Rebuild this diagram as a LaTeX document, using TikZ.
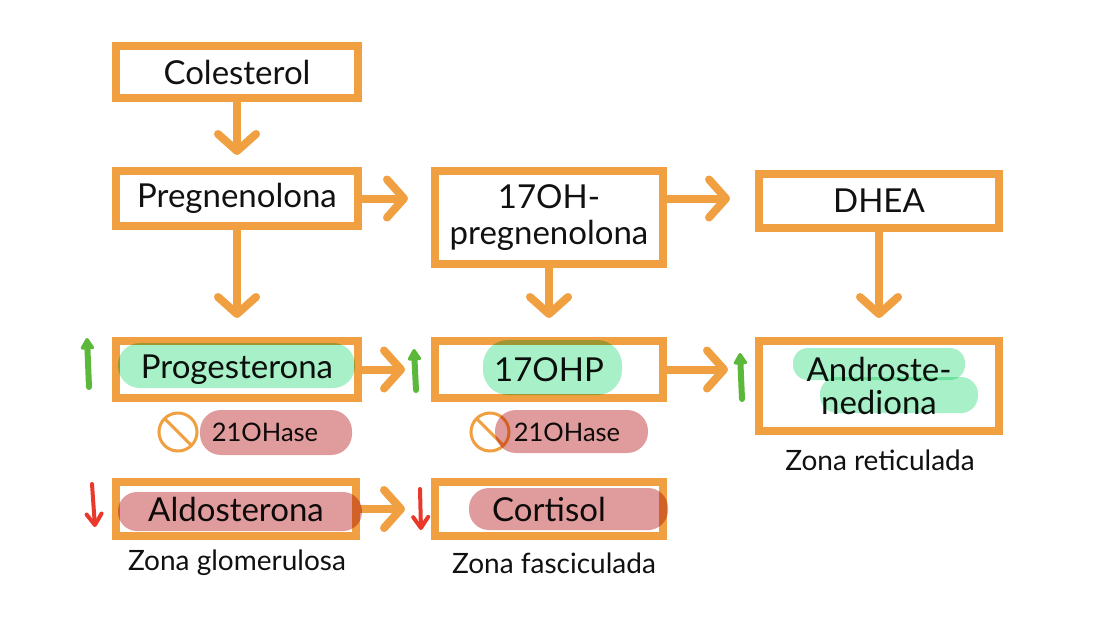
\documentclass[tikz,border=0pt]{standalone}
\usepackage{fontspec}
\setmainfont{Lato}
\usetikzlibrary{arrows.meta}
\definecolor{boxorange}{HTML}{F0A040}
\definecolor{hlgreen}{HTML}{A8F0C8}
\definecolor{hlred}{HTML}{E09C9C}
\definecolor{upgreen}{HTML}{5BB83A}
\definecolor{downred}{HTML}{E8392A}
\definecolor{ink}{HTML}{111111}
\begin{document}
\begin{tikzpicture}[x=1pt,y=-1pt,
        stepbox/.style={draw=boxorange, line width=8pt, fill=white, text=ink,
            align=center, font=\fontsize{33}{36}\selectfont},
        flow/.style={boxorange, line width=8pt, line cap=round,
            -{Straight Barb[length=17pt,width=38pt,round]}},
        up/.style={upgreen, line width=6pt, line cap=round,
            -{Triangle[length=13pt,width=15pt,round]}},
        down/.style={downred, line width=4pt, line cap=round,
            -{Straight Barb[length=11pt,width=15pt,round]}},
        nosign/.style={boxorange, line width=3pt},
        zone/.style={text=ink, font=\fontsize{28}{32}\selectfont},
        enzyme/.style={text=ink, font=\fontsize{25.5}{30}\selectfont}]
        \useasboundingbox[fill=white] (0,0) rectangle (1097,619);

        % Boxes of the pathway.
        \node[stepbox, minimum width=242pt, minimum height=52pt]
            (col) at (237,72) {Colesterol};
        \node[stepbox, minimum width=242pt, minimum height=55pt]
            (preg) at (237,198.5) {Pregnenolona};
        \node[stepbox, minimum width=228pt, minimum height=93pt]
            (ohpreg) at (549,217.5) {17OH-\\pregnenolona};
        \node[stepbox, minimum width=240pt, minimum height=54pt]
            (dhea) at (879,201) {DHEA};
        \node[stepbox, minimum width=242pt, minimum height=57pt]
            (prog) at (237,369.5) {Progesterona};
        \node[stepbox, minimum width=228pt, minimum height=57pt]
            (ohp) at (549,369.5) {17OHP};
        \node[stepbox, minimum width=240pt, minimum height=90pt,
            font=\fontsize{33}{33}\selectfont]
            (andro) at (879,386) {Androste-\\nediona};
        \node[stepbox, minimum width=240pt, minimum height=54pt]
            (aldo) at (236,509) {Aldosterona};
        \node[stepbox, minimum width=228pt, minimum height=54pt]
            (cort) at (549,509) {Cortisol};

        % Conversions.
        \draw[flow, shorten >=12pt] (col) -- (preg);
        \draw[flow, shorten >=19pt] (preg) -- (prog);
        \draw[flow, shorten >=19pt] (ohpreg) -- (ohp);
        \draw[flow, shorten >=19pt] (dhea) -- (andro);
        \draw[flow, shorten >=23pt] (preg.east) -- (preg.east -| ohpreg.west);
        \draw[flow, shorten >=25pt] (ohpreg.east |- preg.east) -- (dhea.west |- preg.east);
        \draw[flow, shorten >=26pt] (prog.east) -- (prog.east -| ohp.west);
        \draw[flow, shorten >=27pt] (ohp.east) -- (ohp.east -| andro.west);
        \draw[flow, shorten >=26pt] (aldo.east) -- (aldo.east -| cort.west);

        % Blocked enzyme.
        \node[enzyme] (enzA) at (265,432) {21OHase};
        \node[enzyme] (enzB) at (567,432) {21OHase};
        \draw[nosign] (178,432) circle[radius=19] (164.5,418.5) -- (191.5,445.5);
        \draw[nosign] (490,432) circle[radius=19] (476.5,418.5) -- (503.5,445.5);

        % Highlighter marks.
        \begin{scope}[blend mode=multiply]
            \fill[hlgreen, rounded corners=22pt] (118,343) rectangle (355,388);
            \fill[hlgreen, rounded corners=25pt] (483,340) rectangle (622,395);
            \fill[hlgreen, rounded corners=15pt] (793,348) rectangle (965,380);
            \fill[hlgreen, rounded corners=17pt] (820,377) rectangle (978,413);
            \fill[hlred, rounded corners=21pt] (200,410) rectangle (352,455);
            \fill[hlred, rounded corners=21pt] (495,410) rectangle (648,453);
            \fill[hlred, rounded corners=19pt] (118,492) rectangle (362,531);
            \fill[hlred, rounded corners=20pt] (469,488) rectangle (668,530);
        \end{scope}

        % Up and down marks.
        \draw[up] (89,387) -- (87,338);
        \draw[up] (416,390) -- (414,349);
        \draw[up] (742,399) -- (740,353);
        \draw[down] (92,484) -- (95,527);
        \draw[down] (420,489) -- (421,530);

        % Zones.
        \node[zone] (zg) at (237,563) {Zona glomerulosa};
        \node[zone] (zf) at (554,563) {Zona fasciculada};
        \node[zone] (zr) at (880,460) {Zona reticulada};
    \end{tikzpicture}
\end{document}
